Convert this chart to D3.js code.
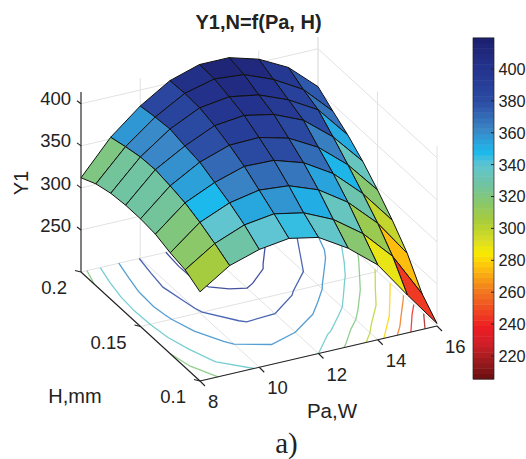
<!DOCTYPE html>
<html>
<head>
<meta charset="utf-8">
<script src="https://d3js.org/d3.v7.min.js"></script>
<style>
  html, body { margin: 0; padding: 0; background: #fff; }
  svg { display: block; }
  text { font-family: "Liberation Sans", Arial, sans-serif; fill: #222; }
</style>
</head>
<body>
<svg id="chart" width="526" height="459"></svg>
<script>
// Surface values. Each row is one H, each column one Pa.
const paValues = [8, 9, 10, 11, 12, 13, 14, 15, 16];
const hValues = [0.1, 0.1125, 0.125, 0.1375, 0.15, 0.1625, 0.175, 0.1875, 0.2];
const y1Values = [
    [306, 329, 340, 345, 338, 317, 289, 245, 203],
    [316, 339, 353, 358, 351, 335, 310, 275, 222],
    [320, 348, 363, 370, 367, 354, 331, 298, 254],
    [326, 355, 371, 382, 381, 370, 349, 317, 277],
    [328, 359, 379, 391, 392, 383, 364, 335, 297],
    [328, 362, 382, 398, 402, 395, 380, 352, 315],
    [326, 361, 386, 403, 408, 402, 388, 368, 330],
    [321, 357, 384, 404, 413, 410, 396, 376, 342],
    [312, 352, 381, 403, 414, 414, 404, 386, 355]
];

const contourLevels = [220, 240, 260, 280, 300, 320, 338, 360, 380, 400];

const paTicks = [8, 10, 12, 14, 16];
const hTicks = [0.1, 0.15, 0.2];
const hTickLabels = ['0.1', '0.15', '0.2'];
const zTicks = [250, 300, 350, 400];
const colorbarTicks = [220, 240, 260, 280, 300, 320, 340, 360, 380, 400];

const colorStops = [206, 218, 228, 238, 261, 276, 285, 291, 305, 320, 326, 340, 348, 362, 380, 400, 419];
const colorValues = ['#6b0f12', '#a01c20', '#d01f27', '#ed1c24', '#f27a1f', '#fdc20e', '#f8ec00', '#e0e020',
    '#a8cc3a', '#80c67c', '#73c49a', '#5fc5d2', '#1cb9ec', '#3a86c6', '#2b4ba3', '#24348f', '#1c1f6e'];

const svg = d3.select('#chart');
const color = d3.scaleLinear().domain(colorStops).range(colorValues).clamp(true);

// Orthographic box: every axis adds a fixed screen offset
const originX = 200, originY = 381;
const paDx = d3.scaleLinear().domain([8, 16]).range([0, 237]);
const paDy = d3.scaleLinear().domain([8, 16]).range([0, -55]);
const hDx = d3.scaleLinear().domain([0.1, 0.2]).range([0, -119]);
const hDy = d3.scaleLinear().domain([0.1, 0.2]).range([0, -109]);
const zDy = d3.scaleLinear().domain([200, 414]).range([0, -180]);
const zMax = 414;

function project(pa, h, z) {
    return [originX + paDx(pa) + hDx(h), originY + paDy(pa) + hDy(h) + zDy(z)];
}

const line = d3.line();

// Grid on the floor and the two back walls
const grid = svg.append('g')
    .attr('fill', 'none')
    .attr('stroke', '#e2e2e2')
    .attr('stroke-width', 1);

function gridLine(a, b) {
    grid.append('path').attr('d', line([a, b]));
}

paTicks.forEach(pa => {
    gridLine(project(pa, 0.1, 200), project(pa, 0.2, 200));
    gridLine(project(pa, 0.2, 200), project(pa, 0.2, zMax));
});
hTicks.forEach(h => {
    gridLine(project(8, h, 200), project(16, h, 200));
    gridLine(project(16, h, 200), project(16, h, zMax));
});
zTicks.forEach(z => {
    gridLine(project(8, 0.2, z), project(16, 0.2, z));
    gridLine(project(16, 0.2, z), project(16, 0.1, z));
});

// Contours on the floor. d3.contours closes rings around the grid, those parts are dropped.
const contours = d3.contours()
    .size([paValues.length, hValues.length])
    .thresholds(contourLevels)(y1Values.flat());

const paByIndex = d3.scaleLinear().domain([0, paValues.length - 1]).range([8, 16]);
const hByIndex = d3.scaleLinear().domain([0, hValues.length - 1]).range([0.1, 0.2]);
const contourGroup = svg.append('g').attr('fill', 'none').attr('stroke-width', 1.3);

contours.forEach(c => {
    c.coordinates.forEach(polygon => polygon.forEach(ring => {
        let run = [];
        const flush = () => {
            if (run.length > 1) {
                contourGroup.append('path').attr('d', line(run)).attr('stroke', color(c.value)).attr('stroke-opacity', 0.85);
            }
            run = [];
        };
        ring.forEach(p => {
            const xi = p[0] - 0.5, yi = p[1] - 0.5;
            if (xi < 0 || xi > paValues.length - 1 || yi < 0 || yi > hValues.length - 1) {
                flush();
            } else {
                run.push(project(paByIndex(xi), hByIndex(yi), 200));
            }
        });
        flush();
    }));
});

// Axis lines and ticks
const axes = svg.append('g').attr('fill', 'none').attr('stroke', '#222').attr('stroke-width', 1.1);
axes.append('path').attr('d', line([project(8, 0.2, 200), project(8, 0.2, zMax)]));
axes.append('path').attr('d', line([project(8, 0.2, 200), project(8, 0.1, 200)]));
axes.append('path').attr('d', line([project(8, 0.1, 200), project(16, 0.1, 200)]));

paTicks.forEach(pa => {
    const p = project(pa, 0.1, 200);
    axes.append('path').attr('d', line([p, [p[0] + 5, p[1] + 5]]));
    svg.append('text').attr('x', p[0] + 8).attr('y', p[1] + 20.5).attr('dy', '0.36em')
        .attr('font-size', 18.5).text(pa);
});
hTicks.forEach((h, i) => {
    const p = project(8, h, 200);
    axes.append('path').attr('d', line([p, [p[0] - 6, p[1] - 1.5]]));
    svg.append('text').attr('x', p[0] - 14).attr('y', p[1] + 15.5).attr('dy', '0.36em')
        .attr('text-anchor', 'end').attr('font-size', 18.5).text(hTickLabels[i]);
});
zTicks.forEach(z => {
    const p = project(8, 0.2, z);
    axes.append('path').attr('d', line([p, [p[0] - 4, p[1] - 3]]));
    svg.append('text').attr('x', p[0] - 10).attr('y', p[1] - 5).attr('dy', '0.36em')
        .attr('text-anchor', 'end').attr('font-size', 18.5).text(z);
});

// Surface, painted from the back corner forward; each cell takes its first corner's colour
const surface = svg.append('g').attr('stroke', '#111').attr('stroke-width', 1).attr('stroke-linejoin', 'round');
for (let j = hValues.length - 2; j >= 0; j--) {
    for (let i = paValues.length - 2; i >= 0; i--) {
        const corners = [
            project(paValues[i], hValues[j], y1Values[j][i]),
            project(paValues[i + 1], hValues[j], y1Values[j][i + 1]),
            project(paValues[i + 1], hValues[j + 1], y1Values[j + 1][i + 1]),
            project(paValues[i], hValues[j + 1], y1Values[j + 1][i])
        ];
        surface.append('path')
            .attr('d', line(corners) + 'Z')
            .attr('fill', color(y1Values[j][i]));
    }
}

// Colorbar
const barX = 473, barWidth = 21;
const barY = d3.scaleLinear().domain([205.6, 419.4]).range([379, 38]);
const barGroup = svg.append('g');
const barSteps = d3.range(205.6, 419.4, 214 / 64);
barSteps.forEach(v => {
    barGroup.append('rect')
        .attr('x', barX)
        .attr('y', barY(v + 214 / 64))
        .attr('width', barWidth)
        .attr('height', barY(v) - barY(v + 214 / 64) + 0.5)
        .attr('fill', color(v + 107 / 64));
});
barGroup.append('rect')
    .attr('x', barX).attr('y', 38).attr('width', barWidth).attr('height', 341)
    .attr('fill', 'none').attr('stroke', '#222').attr('stroke-width', 0.7);
colorbarTicks.forEach(v => {
    barGroup.append('line')
        .attr('x1', barX + barWidth - 3).attr('x2', barX + barWidth)
        .attr('y1', barY(v)).attr('y2', barY(v))
        .attr('stroke', '#222');
    barGroup.append('text')
        .attr('x', 498.5).attr('y', barY(v)).attr('dy', '0.36em')
        .attr('font-size', 16.3).text(v);
});

// Titles
svg.append('text').attr('x', 258.5).attr('y', 29).attr('text-anchor', 'middle')
    .attr('font-size', 20).attr('font-weight', 'bold').text('Y1,N=f(Pa, H)');
svg.append('text').attr('transform', 'translate(28,183) rotate(-90)').attr('text-anchor', 'middle')
    .attr('font-size', 20).text('Y1');
svg.append('text').attr('x', 75).attr('y', 396).attr('dy', '0.36em').attr('text-anchor', 'middle')
    .attr('font-size', 20).text('H,mm');
svg.append('text').attr('x', 332).attr('y', 411).attr('dy', '0.36em').attr('text-anchor', 'middle')
    .attr('font-size', 20.5).text('Pa,W');
svg.append('text').attr('x', 286.5).attr('y', 453).attr('text-anchor', 'middle')
    .style('font-family', '"Liberation Serif", "Times New Roman", serif')
    .attr('font-size', 29).text('a)');
</script>
</body>
</html>
